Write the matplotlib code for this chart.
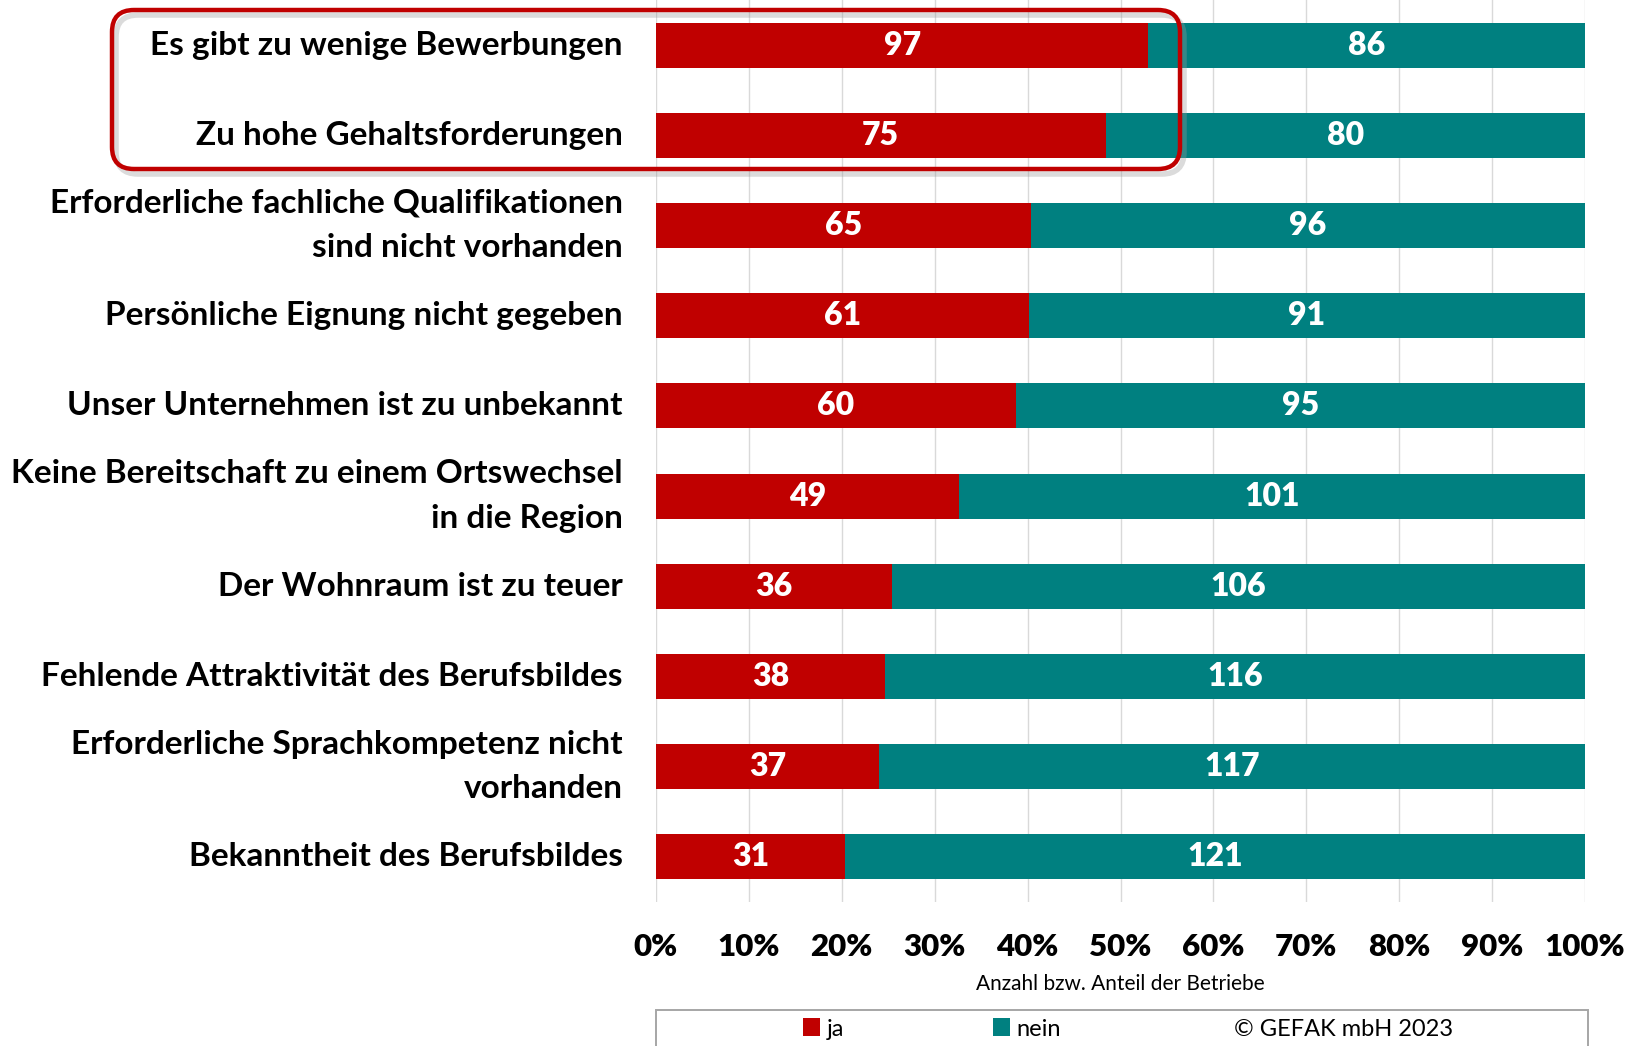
import matplotlib
matplotlib.use("Agg")
from matplotlib import pyplot as plt
from matplotlib.patches import FancyBboxPatch, Patch, Rectangle
from matplotlib.transforms import IdentityTransform
import numpy as np

# data
categories = [
    "Es gibt zu wenige Bewerbungen",
    "Zu hohe Gehaltsforderungen",
    "Erforderliche fachliche Qualifikationen\nsind nicht vorhanden",
    "Persönliche Eignung nicht gegeben",
    "Unser Unternehmen ist zu unbekannt",
    "Keine Bereitschaft zu einem Ortswechsel\nin die Region",
    "Der Wohnraum ist zu teuer",
    "Fehlende Attraktivität des Berufsbildes",
    "Erforderliche Sprachkompetenz nicht\nvorhanden",
    "Bekanntheit des Berufsbildes",
]
ja = [97, 75, 65, 61, 60, 49, 36, 38, 37, 31]
nein = [86, 80, 96, 91, 95, 101, 106, 116, 117, 121]
tick_labels = ["0%", "10%", "20%", "30%", "40%", "50%", "60%", "70%", "80%", "90%", "100%"]

RED = "#C00000"
TEAL = "#008080"
FONT = ["Lato", "DejaVu Sans"]

plt.rcParams['font.family'] = FONT

W, H = 1633, 1046
fig = plt.figure(figsize=(W / 100, H / 100), dpi=100)
ax = fig.add_axes([656 / W, 1 - 902 / H, 929 / W, 902 / H])

ja_arr = np.array(ja, dtype=float)
nein_arr = np.array(nein, dtype=float)
total = ja_arr + nein_arr
ja_share = ja_arr / total
nein_share = nein_arr / total
y = np.arange(len(categories))

bars_ja = ax.barh(y, ja_share, height=0.5, color=RED, zorder=3)
bars_nein = ax.barh(y, nein_share, left=ja_share, height=0.5, color=TEAL, zorder=3)

# value labels inside the bars
for i in range(len(categories)):
    ax.text(ja_share[i] / 2, y[i], str(ja[i]), ha="center", va="center",
            color="white", fontsize=23, fontweight="heavy", zorder=4)
    ax.text(ja_share[i] + nein_share[i] / 2, y[i], str(nein[i]), ha="center", va="center",
            color="white", fontsize=23, fontweight="heavy", zorder=4)

ax.set_xlim(0, 1)
ax.set_ylim(len(categories) - 0.5, -0.5)
ax.set_yticks(y)
ax.set_yticklabels(categories, fontsize=24, fontweight="bold", linespacing=1.65, va="center")
ax.set_xticks(np.linspace(0, 1, 11))
ax.set_xticklabels(tick_labels, fontsize=22.5, fontweight="heavy")
ax.tick_params(axis="y", length=0, pad=24)
ax.tick_params(axis="x", length=0, pad=22)
ax.grid(axis="x", color="#d9d9d9", linewidth=1, zorder=0)
for s in ax.spines.values():
    s.set_visible(False)
ax.set_xlabel("Anzahl bzw. Anteil der Betriebe", fontsize=15, labelpad=10)

# red rounded highlight box around the first two rows (pixel coords)
x0, x1 = 112, 1180
ytop, ybot = H - 10, H - 169
shadow = FancyBboxPatch((x0 + 4, ybot - 5), x1 - x0, ytop - ybot,
                        boxstyle="round,pad=0,rounding_size=22",
                        transform=IdentityTransform(), facecolor="none",
                        edgecolor="#999999", linewidth=4, alpha=0.35, zorder=5)
box = FancyBboxPatch((x0, ybot), x1 - x0, ytop - ybot,
                     boxstyle="round,pad=0,rounding_size=22",
                     transform=IdentityTransform(), facecolor="none",
                     edgecolor=RED, linewidth=3.2, zorder=6)
fig.patches.append(shadow)
fig.patches.append(box)

# legend box at the bottom (runs off the lower edge)
frame = Rectangle((656 / W, -0.05), 932 / W, 0.05 + 1 - 1010 / H,
                  transform=fig.transFigure, facecolor="white",
                  edgecolor="#a6a6a6", linewidth=1.4, zorder=1)
fig.patches.append(frame)
handles = [Patch(facecolor=RED, label="ja"),
           Patch(facecolor=TEAL, label="nein"),
           Patch(facecolor="none", edgecolor="none", label="© GEFAK mbH 2023")]
leg = fig.legend(handles=handles, loc="center",
                 bbox_to_anchor=(1128 / W, 1 - 1029 / H),
                 ncol=3, frameon=False, fontsize=17,
                 handlelength=0.7, handleheight=0.8,
                 handletextpad=0.3, columnspacing=6.3)

fig.savefig("out.png", dpi=100)
